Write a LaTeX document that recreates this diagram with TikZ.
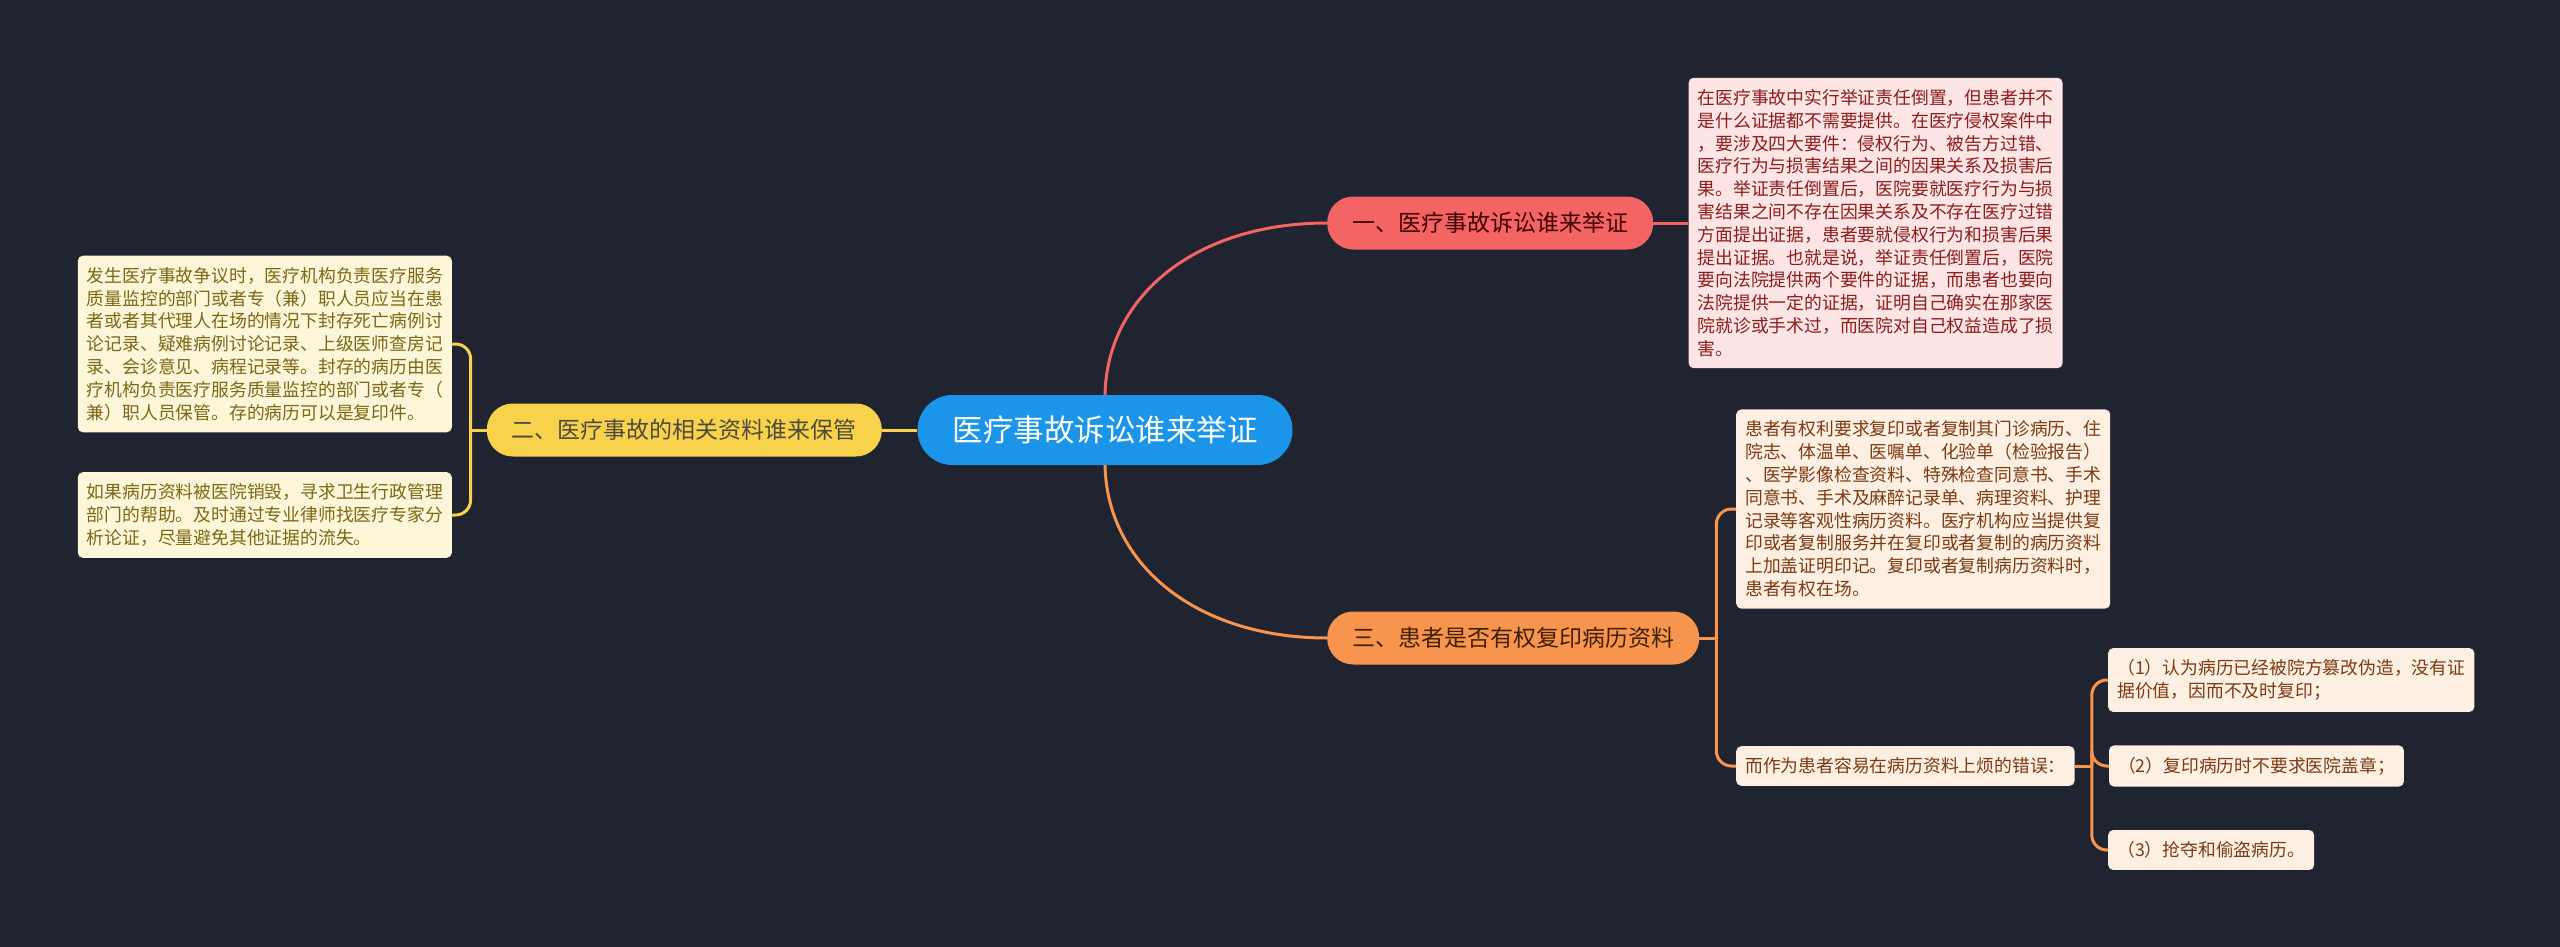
\documentclass[tikz,border=0pt]{standalone}
\usepackage{fontspec}
\setmainfont{Noto Sans CJK SC}
\usetikzlibrary{positioning}

\definecolor{bgdark}{HTML}{202330}
\definecolor{rootblue}{HTML}{1B95EA}
\definecolor{redmain}{HTML}{F46464}
\definecolor{redleaf}{HTML}{FEE5E5}
\definecolor{redtext}{HTML}{8B1D1D}
\definecolor{yelmain}{HTML}{F8D24B}
\definecolor{yelleaf}{HTML}{FEF6D9}
\definecolor{yeltext}{HTML}{7B6816}
\definecolor{orgmain}{HTML}{F7954F}
\definecolor{orgleaf}{HTML}{FEEFE3}
\definecolor{orgtext}{HTML}{7B3B12}

\begin{document}
\begin{tikzpicture}[x=1pt, y=-1pt,
   root/.style={fill=rootblue, text=white, rounded corners=35pt,
                minimum height=70pt, inner xsep=35pt,
                font=\fontsize{30.5}{36}\selectfont},
   branch/.style={rounded corners=26pt, minimum height=53pt, inner xsep=25pt,
                  font=\fontsize{23}{28}\selectfont},
   leaf/.style={rounded corners=5pt, inner xsep=9pt, inner ysep=11.5pt,
                align=left, font=\fontsize{17.8}{22.8}\selectfont},
   leafr/.style={leaf, fill=redleaf, text=redtext},
   leafy/.style={leaf, fill=yelleaf, text=yeltext},
   leafo/.style={leaf, fill=orgleaf, text=orgtext},
   link/.style={line width=3pt},
   node distance=35pt]
\fill[bgdark] (0,0) rectangle (2560,947);

\node[root] (root) at (1105,430) {医疗事故诉讼谁来举证};

% branch nodes
\node[branch, fill=redmain, text=black!75!red, anchor=west] (n1) at (1327,223) {一、医疗事故诉讼谁来举证};
\node[branch, fill=yelmain, text=black!80!yellow, anchor=east] (n2) at (882,430) {二、医疗事故的相关资料谁来保管};
\node[branch, fill=orgmain, text=black!75!orange, anchor=west] (n3) at (1327,638) {三、患者是否有权复印病历资料};

% leaves of n1
\node[leafr, right=of n1] (r1) {在医疗事故中实行举证责任倒置，但患者并不\\
是什么证据都不需要提供。在医疗侵权案件中\\
，要涉及四大要件：侵权行为、被告方过错、\\
医疗行为与损害结果之间的因果关系及损害后\\
果。举证责任倒置后，医院要就医疗行为与损\\
害结果之间不存在因果关系及不存在医疗过错\\
方面提出证据，患者要就侵权行为和损害后果\\
提出证据。也就是说，举证责任倒置后，医院\\
要向法院提供两个要件的证据，而患者也要向\\
法院提供一定的证据，证明自己确实在那家医\\
院就诊或手术过，而医院对自己权益造成了损\\
害。};

% leaves of n2
\node[leafy, anchor=east] (y1) at (452,344) {发生医疗事故争议时，医疗机构负责医疗服务\\
质量监控的部门或者专（兼）职人员应当在患\\
者或者其代理人在场的情况下封存死亡病例讨\\
论记录、疑难病例讨论记录、上级医师查房记\\
录、会诊意见、病程记录等。封存的病历由医\\
疗机构负责医疗服务质量监控的部门或者专（\\
兼）职人员保管。存的病历可以是复印件。};
\node[leafy, anchor=east] (y2) at (452,515) {如果病历资料被医院销毁，寻求卫生行政管理\\
部门的帮助。及时通过专业律师找医疗专家分\\
析论证，尽量避免其他证据的流失。};

% leaves of n3
\node[leafo, anchor=west] (o1) at (1736,509) {患者有权利要求复印或者复制其门诊病历、住\\
院志、体温单、医嘱单、化验单（检验报告）\\
、医学影像检查资料、特殊检查同意书、手术\\
同意书、手术及麻醉记录单、病理资料、护理\\
记录等客观性病历资料。医疗机构应当提供复\\
印或者复制服务并在复印或者复制的病历资料\\
上加盖证明印记。复印或者复制病历资料时，\\
患者有权在场。};
\node[leafo, anchor=west] (o2) at (1736,766) {而作为患者容易在病历资料上烦的错误：};

\node[leafo, anchor=west] (s1) at (2108,680) {（1）认为病历已经被院方篡改伪造，没有证\\据价值，因而不及时复印；};
\node[leafo, right=34pt of o2] (s2) {（2）复印病历时不要求医院盖章；};
\node[leafo, anchor=west] (s3) at (2108,850) {（3）抢夺和偷盗病历。};

% connectors
\draw[link, redmain] (root.north) .. controls +(2,-100) and +(-130,0) .. (n1.west);
\draw[link, orgmain] (root.south) .. controls +(2,100) and +(-130,0) .. (n3.west);
\draw[link, yelmain] (root.west) -- (n2.east);
\draw[link, redmain] (n1.east) -- (r1.west);

\draw[link, yelmain] (n2.west) -- ++(-16,0);
\foreach \c in {y1,y2}
  \draw[link, yelmain, rounded corners=15pt] ([xshift=-16pt]n2.west) |- (\c.east);

\draw[link, orgmain] (n3.east) -- ++(17,0);
\foreach \c in {o1,o2}
  \draw[link, orgmain, rounded corners=15pt] ([xshift=17pt]n3.east) |- (\c.west);

\draw[link, orgmain] (o2.east) -- ++(17,0);
\foreach \c in {s1,s2,s3}
  \draw[link, orgmain, rounded corners=15pt] ([xshift=17pt]o2.east) |- (\c.west);
\end{tikzpicture}
\end{document}
